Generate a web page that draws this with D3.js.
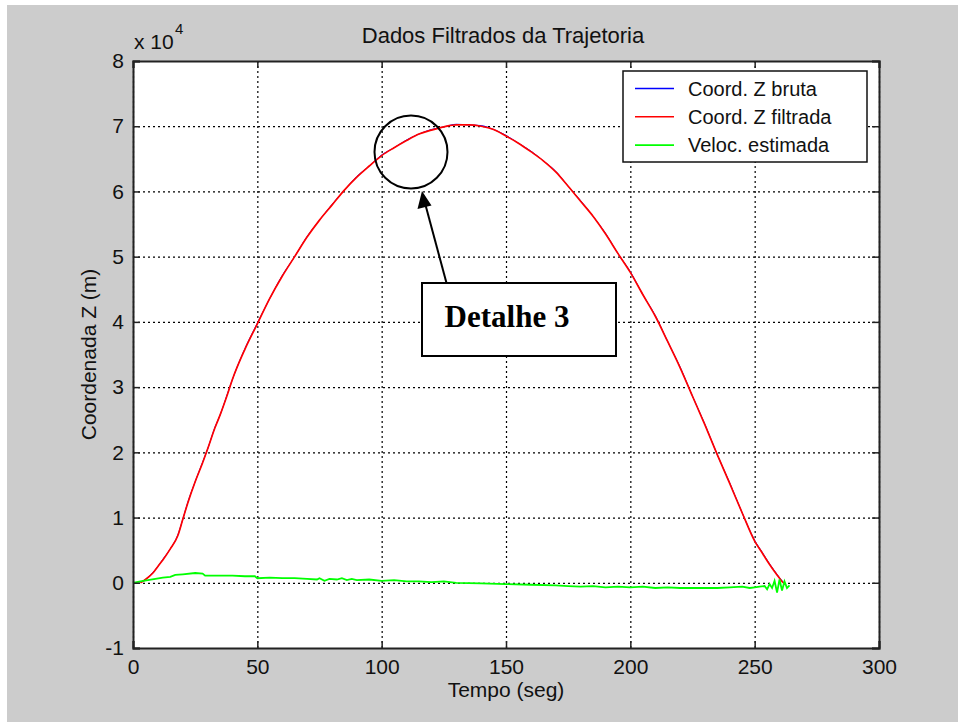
<!DOCTYPE html>
<html>
<head>
<meta charset="utf-8">
<script src="https://cdn.jsdelivr.net/npm/d3@7"></script>
<style>
  html, body { margin: 0; padding: 0; background: #ffffff; }
  svg { display: block; font-family: "Liberation Sans", Arial, sans-serif; }
</style>
</head>
<body>
<svg id="chart" width="958" height="722"></svg>
<script>
// ---- Data (Z values in units of 1e4 m) ----
const tempoZ = [3, 5, 8, 10, 12, 15, 18, 20, 22, 25, 28, 30, 33, 35, 38, 40, 45, 50, 55, 60, 65, 70, 75, 80, 85, 90, 95, 100, 105, 110, 115, 120, 125, 130, 135, 140, 145, 150, 155, 160, 165, 170, 175, 180, 185, 190, 195, 200, 205, 210, 215, 220, 225, 230, 235, 240, 245, 250, 253, 256, 259, 261, 262.5];
const zFiltrada = [0.00, 0.05, 0.15, 0.25, 0.35, 0.52, 0.72, 0.97, 1.22, 1.55, 1.84, 2.05, 2.38, 2.57, 2.89, 3.12, 3.58, 3.97, 4.36, 4.70, 5.00, 5.30, 5.56, 5.79, 6.02, 6.22, 6.39, 6.55, 6.67, 6.78, 6.88, 6.94, 6.99, 7.02, 7.02, 7.00, 6.95, 6.85, 6.74, 6.61, 6.47, 6.30, 6.08, 5.85, 5.62, 5.35, 5.05, 4.76, 4.42, 4.09, 3.70, 3.30, 2.86, 2.42, 1.96, 1.52, 1.07, 0.64, 0.46, 0.28, 0.12, 0.02, -0.03];
const zBruta = [0.01, 0.05, 0.16, 0.25, 0.36, 0.52, 0.73, 0.97, 1.23, 1.55, 1.85, 2.05, 2.39, 2.57, 2.90, 3.12, 3.59, 3.98, 4.36, 4.71, 5.00, 5.31, 5.56, 5.80, 6.02, 6.23, 6.39, 6.56, 6.67, 6.79, 6.88, 6.95, 6.99, 7.03, 7.02, 7.01, 6.95, 6.86, 6.74, 6.62, 6.47, 6.31, 6.08, 5.86, 5.62, 5.36, 5.05, 4.77, 4.42, 4.10, 3.70, 3.31, 2.86, 2.43, 1.96, 1.53, 1.07, 0.65, 0.47, 0.29, 0.13, 0.03, -0.02];

const tempoV = [0, 3, 6, 9, 12, 15, 17, 20, 25, 28, 29, 35, 40, 45, 49, 50, 55, 60, 65, 70, 74, 75, 77, 79, 82, 84, 86, 88, 90, 95, 100, 105, 110, 115, 120, 125, 130, 140, 150, 160, 170, 175, 180, 185, 190, 195, 200, 205, 210, 215, 220, 225, 230, 235, 240, 245, 248, 250, 252, 254, 255, 256, 257, 258, 259, 260, 261, 262, 263, 264];
const velEstimada = [0.00, 0.02, 0.04, 0.06, 0.08, 0.09, 0.12, 0.13, 0.15, 0.14, 0.11, 0.11, 0.11, 0.10, 0.10, 0.07, 0.08, 0.07, 0.07, 0.06, 0.05, 0.07, 0.03, 0.06, 0.05, 0.07, 0.04, 0.06, 0.04, 0.05, 0.03, 0.04, 0.02, 0.02, 0.01, 0.02, 0.00, -0.01, -0.02, -0.03, -0.04, -0.05, -0.06, -0.05, -0.07, -0.06, -0.07, -0.06, -0.08, -0.07, -0.08, -0.08, -0.08, -0.08, -0.07, -0.06, -0.08, -0.07, -0.06, -0.05, -0.10, -0.02, -0.08, 0.03, -0.15, 0.05, -0.12, 0.02, -0.08, -0.04];

const xTicks = [0, 50, 100, 150, 200, 250, 300];
const yTicks = [-1, 0, 1, 2, 3, 4, 5, 6, 7, 8];
const seriesNames = ["Coord. Z bruta", "Coord. Z filtrada", "Veloc. estimada"];
const seriesColors = ["#0000ff", "#ff0000", "#00ff00"];

// ---- Layout ----
const svg = d3.select("#chart");
const L = 133, R = 879, T = 61, B = 648;
const W = R - L, H = B - T;

svg.append("rect").attr("x", 7).attr("y", 5).attr("width", 958 - 7).attr("height", 722 - 5).attr("fill", "#cccccc");

const x = d3.scaleLinear().domain([0, 300]).range([0, W]);
const y = d3.scaleLinear().domain([-1, 8]).range([H, 0]);

const g = svg.append("g").attr("transform", `translate(${L},${T})`);
g.append("rect").attr("width", W).attr("height", H).attr("fill", "#ffffff");

// Grid
const gridX = g.append("g").attr("transform", `translate(0,${H})`)
  .call(d3.axisBottom(x).tickValues(xTicks).tickSize(-H).tickFormat(""));
gridX.select(".domain").remove();
gridX.selectAll("line").attr("stroke", "#000").attr("stroke-dasharray", "2,3").attr("stroke-width", 1.2);
const gridY = g.append("g")
  .call(d3.axisLeft(y).tickValues(yTicks).tickSize(-W).tickFormat(""));
gridY.select(".domain").remove();
gridY.selectAll("line").attr("stroke", "#000").attr("stroke-dasharray", "2,3").attr("stroke-width", 1.2);

// Lines
const lineZ = (ts) => d3.line().x((d, i) => x(ts[i])).y(d => y(d)).curve(d3.curveMonotoneX);
g.append("path").datum(zBruta).attr("d", lineZ(tempoZ)).attr("fill", "none")
  .attr("stroke", seriesColors[0]).attr("stroke-width", 1);
g.append("path").datum(zFiltrada).attr("d", lineZ(tempoZ)).attr("fill", "none")
  .attr("stroke", seriesColors[1]).attr("stroke-width", 1.7);
g.append("path").datum(velEstimada).attr("d", d3.line().x((d, i) => x(tempoV[i])).y(d => y(d))).attr("fill", "none")
  .attr("stroke", seriesColors[2]).attr("stroke-width", 1.8);

// Axes (ticks inward)
const tickFont = (sel) => sel.selectAll("text").attr("font-size", 21).attr("fill", "#111")
  .attr("font-family", "'Liberation Sans', Arial, sans-serif");
const fmt = d => String(d);
const axB = g.append("g").attr("transform", `translate(0,${H})`)
  .call(d3.axisBottom(x).tickValues(xTicks).tickSize(-7).tickPadding(11).tickFormat(fmt));
const axT = g.append("g")
  .call(d3.axisTop(x).tickValues(xTicks).tickSize(-7).tickFormat(""));
const axL = g.append("g")
  .call(d3.axisLeft(y).tickValues(yTicks).tickSize(-7).tickPadding(9).tickFormat(fmt));
const axR = g.append("g").attr("transform", `translate(${W},0)`)
  .call(d3.axisRight(y).tickValues(yTicks).tickSize(-7).tickFormat(""));
[axB, axT, axL, axR].forEach(a => {
  a.select(".domain").attr("stroke", "#222").attr("stroke-width", 2);
  a.selectAll(".tick line").attr("stroke", "#222").attr("stroke-width", 1.5);
  tickFont(a);
});

// Exponent label
svg.append("text").attr("x", 134).attr("y", 49).attr("font-size", 21).attr("fill", "#111").text("x 10");
svg.append("text").attr("x", 175).attr("y", 34).attr("font-size", 15).attr("fill", "#111").text("4");

// Title and axis labels
svg.append("text").attr("x", 503).attr("y", 43).attr("text-anchor", "middle")
  .attr("font-size", 22).attr("fill", "#111").text("Dados Filtrados da Trajetoria");
svg.append("text").attr("x", L + W / 2).attr("y", 697).attr("text-anchor", "middle")
  .attr("font-size", 21).attr("fill", "#111").text("Tempo (seg)");
svg.append("text").attr("transform", `translate(96,${T + H / 2}) rotate(-90)`).attr("text-anchor", "middle")
  .attr("font-size", 21).attr("fill", "#111").text("Coordenada Z (m)");

// Legend
const lg = svg.append("g");
lg.append("rect").attr("x", 623).attr("y", 71).attr("width", 244).attr("height", 91)
  .attr("fill", "#fff").attr("stroke", "#111").attr("stroke-width", 1.5);
seriesNames.forEach((name, i) => {
  const yy = 88.5 + i * 28.3;
  lg.append("line").attr("x1", 635).attr("x2", 674).attr("y1", yy).attr("y2", yy)
    .attr("stroke", seriesColors[i]).attr("stroke-width", 1.6);
  lg.append("text").attr("x", 688).attr("y", yy).attr("dy", "0.36em")
    .attr("font-size", 20).attr("fill", "#111").text(name);
});

// Annotation
const an = svg.append("g");
an.append("circle").attr("cx", 411).attr("cy", 152).attr("r", 36.5)
  .attr("fill", "none").attr("stroke", "#000").attr("stroke-width", 2);
an.append("line").attr("x1", 446.5).attr("y1", 283).attr("x2", 425.5).attr("y2", 205)
  .attr("stroke", "#000").attr("stroke-width", 2);
an.append("path").attr("d", "M422,191 L417.5,209 L431.5,205.5 Z").attr("fill", "#000");
an.append("rect").attr("x", 422).attr("y", 283).attr("width", 194).attr("height", 73)
  .attr("fill", "#fff").attr("stroke", "#000").attr("stroke-width", 2);
an.append("text").attr("x", 507).attr("y", 327).attr("text-anchor", "middle")
  .attr("font-family", "'Liberation Serif', 'Times New Roman', serif").attr("font-weight", "bold")
  .attr("font-size", 31).attr("fill", "#000").text("Detalhe 3");
</script>
</body>
</html>
